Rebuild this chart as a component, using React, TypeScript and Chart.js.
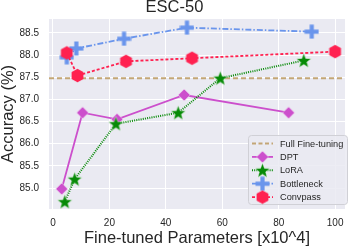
import React, { useEffect, useRef } from "react";
import { Chart, registerables } from "chart.js";

Chart.register(...registerables);

const titleText = "ESC-50";
const xTitle = "Fine-tuned Parameters [x10^4]";
const yTitle = "Accuracy (%)";

const dptX = [3.1, 10.5, 22.7, 46.5, 83.5];
const dptY = [84.98, 86.7, 86.55, 87.1, 86.7];
const loraX = [4.2, 7.7, 22.3, 44.4, 59.3, 88.9];
const loraY = [84.69, 85.2, 86.45, 86.7, 87.48, 87.88];
const bottleneckX = [4.9, 8.3, 25.2, 47.5, 91.7];
const bottleneckY = [87.95, 88.15, 88.37, 88.62, 88.53];
const convpassX = [4.9, 8.7, 25.9, 49.3, 100];
const convpassY = [88.05, 87.54, 87.86, 87.93, 88.08];
const fullFineTuning = 87.48;

const xMin = -1.4;
const xMax = 103.5;
const yMin = 84.526;
const yMax = 88.816;

const FONT = "'Liberation Sans', Arial, sans-serif";
const TEXT = "#262626";

const C_DPT = "#CC4FCC";
const C_LORA = "#078A07";
const C_BOT = "#6A95EC";
const C_CONV = "#FF2150";
const C_FULL = "#C3A676";

function mk(size: number, draw: (c: CanvasRenderingContext2D, s: number) => void) {
  const cv = document.createElement("canvas");
  cv.width = size;
  cv.height = size;
  const c = cv.getContext("2d")!;
  draw(c, size);
  return cv;
}

function makeMarkers() {
  const diamond = mk(14, (c, s) => {
    const m = s / 2;
    c.beginPath();
    c.moveTo(m, 1);
    c.lineTo(s - 1, m);
    c.lineTo(m, s - 1);
    c.lineTo(1, m);
    c.closePath();
    c.fillStyle = C_DPT;
    c.fill();
    c.strokeStyle = "rgba(255,255,255,0.7)";
    c.lineWidth = 0.6;
    c.stroke();
  });
  const star = mk(17, (c, s) => {
    const m = s / 2;
    const R = 7.8;
    const r = 3.3;
    c.beginPath();
    for (let i = 0; i < 10; i++) {
      const a = -Math.PI / 2 + (i * Math.PI) / 5;
      const rr = i % 2 === 0 ? R : r;
      const px = m + rr * Math.cos(a);
      const py = m + 0.6 + rr * Math.sin(a);
      if (i === 0) c.moveTo(px, py);
      else c.lineTo(px, py);
    }
    c.closePath();
    c.fillStyle = C_LORA;
    c.fill();
    c.strokeStyle = "rgba(255,255,255,0.7)";
    c.lineWidth = 0.6;
    c.stroke();
  });
  const plus = mk(15, (c, s) => {
    const m = s / 2;
    const t = 2.1;
    c.fillStyle = C_BOT;
    c.fillRect(0.5, m - t, s - 1, 2 * t);
    c.fillRect(m - t, 0.5, 2 * t, s - 1);
  });
  const hexagon = mk(15, (c, s) => {
    const m = s / 2;
    const R = 6.8;
    c.beginPath();
    for (let i = 0; i < 6; i++) {
      const a = -Math.PI / 2 + (i * Math.PI) / 3;
      const px = m + R * Math.cos(a);
      const py = m + R * Math.sin(a);
      if (i === 0) c.moveTo(px, py);
      else c.lineTo(px, py);
    }
    c.closePath();
    c.fillStyle = C_CONV;
    c.fill();
  });
  return { diamond, star, plus, hexagon };
}

function pts(xs: number[], ys: number[]) {
  return xs.map((x, i) => ({ x, y: ys[i] }));
}

export default function App() {
  const ref = useRef<HTMLCanvasElement | null>(null);

  useEffect(() => {
    const canvas = ref.current!;
    const mks = makeMarkers();

    const legendItems = [
      { label: "Full Fine-tuning", color: C_FULL, dash: [4, 2.5], marker: null as any, width: 2 },
      { label: "DPT", color: C_DPT, dash: [], marker: mks.diamond, width: 1.8 },
      { label: "LoRA", color: C_LORA, dash: [1, 1.2], marker: mks.star, width: 2 },
      { label: "Bottleneck", color: C_BOT, dash: [6, 2, 1.5, 2], marker: mks.plus, width: 1.8 },
      { label: "Convpass", color: C_CONV, dash: [3, 2], marker: mks.hexagon, width: 1.8 },
    ];

    const bgPlugin = {
      id: "bgArea",
      beforeDraw(chart: any) {
        const { ctx, chartArea: a } = chart;
        ctx.save();
        ctx.fillStyle = "#EAEAF2";
        ctx.fillRect(a.left, a.top, a.right - a.left, a.bottom - a.top);
        ctx.restore();
      },
    };

    const legendPlugin = {
      id: "customLegend",
      afterDraw(chart: any) {
        const { ctx } = chart;
        ctx.save();
        const x0 = 248.5, y0 = 135.5, w = 99, h = 69, r = 3;
        ctx.beginPath();
        ctx.moveTo(x0 + r, y0);
        ctx.arcTo(x0 + w, y0, x0 + w, y0 + h, r);
        ctx.arcTo(x0 + w, y0 + h, x0, y0 + h, r);
        ctx.arcTo(x0, y0 + h, x0, y0, r);
        ctx.arcTo(x0, y0, x0 + w, y0, r);
        ctx.closePath();
        ctx.fillStyle = "rgba(234,234,242,0.85)";
        ctx.fill();
        ctx.strokeStyle = "#D0D0D6";
        ctx.lineWidth = 1;
        ctx.stroke();
        legendItems.forEach((it, i) => {
          const cy = 143.5 + i * 13.4;
          ctx.save();
          ctx.strokeStyle = it.color;
          ctx.lineWidth = it.width;
          ctx.setLineDash(it.dash);
          ctx.beginPath();
          ctx.moveTo(252, cy);
          ctx.lineTo(273, cy);
          ctx.stroke();
          ctx.restore();
          if (it.marker) {
            ctx.drawImage(it.marker, 262.5 - it.marker.width / 2, cy - it.marker.height / 2);
          }
          ctx.fillStyle = TEXT;
          ctx.font = `9.2px ${FONT}`;
          ctx.textBaseline = "middle";
          ctx.textAlign = "left";
          ctx.fillText(it.label, 280, cy + 0.5);
        });
        ctx.restore();
      },
    };

    const chart = new Chart(canvas, {
      type: "line",
      data: {
        datasets: [
          {
            label: "Convpass",
            data: pts(convpassX, convpassY),
            borderColor: C_CONV,
            backgroundColor: C_CONV,
            borderWidth: 1.8,
            borderDash: [3, 2],
            pointStyle: mks.hexagon as any,
            pointRadius: 7,
          },
          {
            label: "Bottleneck",
            data: pts(bottleneckX, bottleneckY),
            borderColor: C_BOT,
            backgroundColor: C_BOT,
            borderWidth: 1.8,
            borderDash: [6, 2, 1.5, 2],
            pointStyle: mks.plus as any,
            pointRadius: 7,
          },
          {
            label: "LoRA",
            data: pts(loraX, loraY),
            borderColor: C_LORA,
            backgroundColor: C_LORA,
            borderWidth: 2,
            borderDash: [1, 1.2],
            pointStyle: mks.star as any,
            pointRadius: 7,
          },
          {
            label: "DPT",
            data: pts(dptX, dptY),
            borderColor: C_DPT,
            backgroundColor: C_DPT,
            borderWidth: 1.8,
            pointStyle: mks.diamond as any,
            pointRadius: 7,
          },
          {
            label: "Full Fine-tuning",
            data: [
              { x: xMin, y: fullFineTuning },
              { x: xMax, y: fullFineTuning },
            ],
            borderColor: C_FULL,
            borderWidth: 2,
            borderDash: [5, 3],
            pointRadius: 0,
          },
        ],
      },
      options: {
        animation: false,
        responsive: false,
        maintainAspectRatio: false,
        devicePixelRatio: 1,
        layout: { padding: { left: 0, right: 5, top: 0, bottom: 0 } },
        elements: { line: { tension: 0 } },
        plugins: {
          legend: { display: false },
          tooltip: { enabled: false },
          title: {
            display: true,
            text: titleText,
            color: TEXT,
            font: { family: FONT, size: 16.5, weight: "normal" },
            padding: { top: -2.4, bottom: 1.6 },
          },
        },
        scales: {
          x: {
            type: "linear",
            min: xMin,
            max: xMax,
            border: { display: false },
            grid: { color: "#FFFFFF", lineWidth: 1, drawTicks: false },
            ticks: {
              stepSize: 20,
              includeBounds: false,
              color: TEXT,
              padding: 8,
              font: { family: FONT, size: 10 },
            },
            title: {
              display: true,
              text: xTitle,
              color: TEXT,
              font: { family: FONT, size: 16.5 },
              padding: { top: 0, bottom: 0 },
            },
            afterFit(s: any) {
              s.height = 39;
            },
          },
          y: {
            type: "linear",
            min: yMin,
            max: yMax,
            border: { display: false },
            grid: { color: "#FFFFFF", lineWidth: 1, drawTicks: false },
            ticks: {
              stepSize: 0.5,
              includeBounds: false,
              color: TEXT,
              padding: 10,
              font: { family: FONT, size: 10 },
              callback: (v: any) => Number(v).toFixed(1),
            },
            title: {
              display: true,
              text: yTitle,
              color: TEXT,
              font: { family: FONT, size: 16.5 },
              padding: { top: -1.5, bottom: 0 },
            },
            afterFit(s: any) {
              s.width = 49;
            },
          },
        },
      } as any,
      plugins: [bgPlugin, legendPlugin],
    });
    return () => chart.destroy();
  }, []);

  return (
    <div style={{ position: "fixed", left: 0, top: 0, width: 354, height: 248 }}>
      <canvas ref={ref} width={354} height={248} style={{ width: 354, height: 248, display: "block" }} />
    </div>
  );
}
